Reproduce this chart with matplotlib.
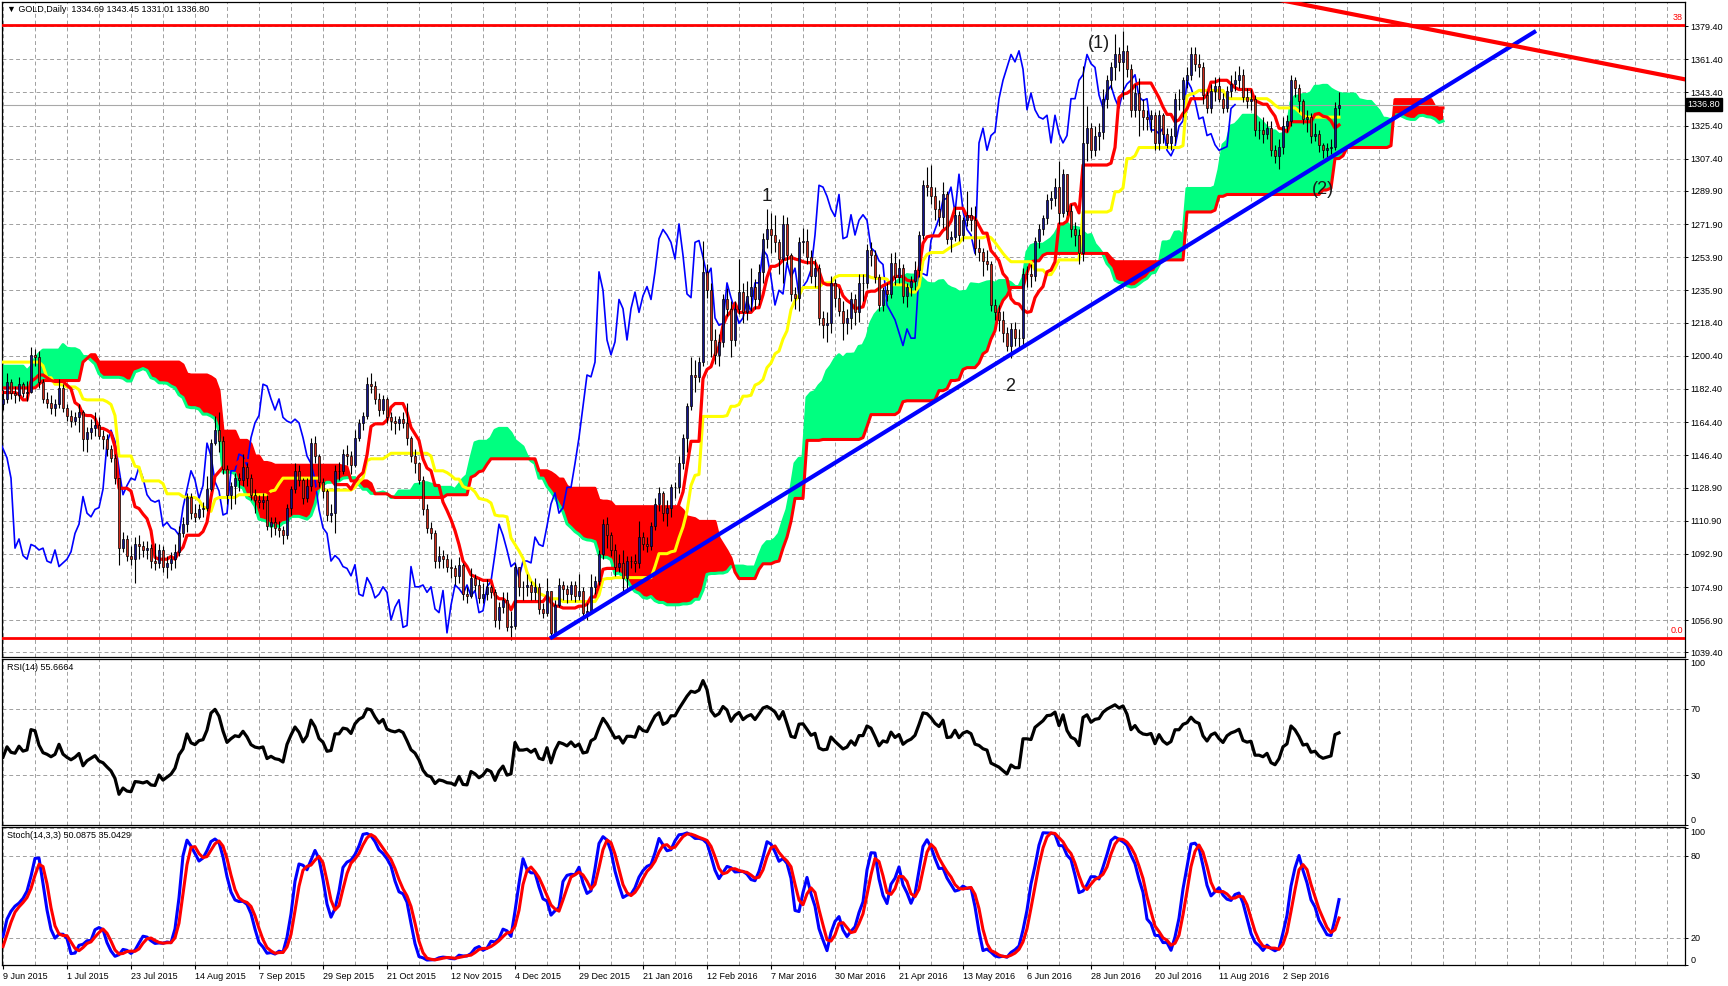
import numpy as np
import pandas as pd
import matplotlib
matplotlib.use("Agg")
import matplotlib.pyplot as plt
import matplotlib.transforms as mtransforms

plt.rcParams['font.family'] = ['Liberation Sans', 'DejaVu Sans']

# ---- daily GOLD prices, 12 Feb 2015 .. 8 Jun 2015 (only feed the indicators, off-screen)
closes_pre = [1221, 1228, 1228, 1208, 1212, 1209, 1204, 1198, 1196, 1209, 1206, 1213,
              1208, 1203, 1199, 1198, 1164, 1167, 1160, 1151, 1152, 1153, 1153, 1148, 1169, 1168, 1183,
              1187, 1191, 1196, 1204, 1199, 1186, 1183,
              1201, 1200, 1219, 1210, 1203, 1194, 1206, 1198, 1192, 1200, 1204, 1203, 1193, 1203, 1186,
              1193, 1178, 1202, 1212, 1204, 1182,
              1178, 1186, 1192, 1192, 1185, 1189, 1183, 1193, 1217, 1219, 1225, 1227, 1208, 1210, 1205,
              1205, 1206, 1187, 1187, 1189, 1189,
              1192, 1194, 1184, 1175, 1171, 1174]
highs_pre = [1228, 1233, 1234, 1231, 1214, 1216, 1215, 1206, 1203, 1213, 1219, 1222,
             1218, 1213, 1206, 1205, 1203, 1170, 1171, 1164, 1158, 1160, 1157, 1156, 1172, 1178, 1185,
             1190, 1194, 1197, 1219, 1206, 1201, 1190,
             1204, 1208, 1224, 1221, 1215, 1205, 1208, 1209, 1201, 1204, 1209, 1208, 1206, 1206, 1203,
             1197, 1196, 1204, 1215, 1215, 1208,
             1186, 1189, 1194, 1198, 1194, 1194, 1190, 1196, 1219, 1224, 1228, 1232, 1228, 1212, 1215,
             1207, 1208, 1207, 1191, 1192, 1194,
             1196, 1199, 1197, 1186, 1180, 1178]
lows_pre = [1216, 1217, 1222, 1198, 1199, 1200, 1190, 1195, 1192, 1195, 1200, 1202,
            1203, 1199, 1194, 1195, 1162, 1161, 1157, 1150, 1149, 1148, 1149, 1142, 1142, 1162, 1166,
            1182, 1184, 1189, 1195, 1194, 1183, 1178,
            1182, 1196, 1194, 1205, 1198, 1192, 1192, 1196, 1183, 1190, 1197, 1196, 1191, 1190, 1184,
            1182, 1174, 1175, 1199, 1202, 1178,
            1170, 1177, 1184, 1186, 1183, 1181, 1181, 1180, 1192, 1212, 1214, 1220, 1205, 1204, 1203,
            1199, 1202, 1184, 1183, 1184, 1183,
            1186, 1188, 1182, 1174, 1162, 1168]

# ---- visible bars, 9 Jun 2015 (bar 0) .. 22 Sep 2016 (bar 334)
closes = [1177, 1186, 1180, 1179, 1185, 1180, 1181, 1201, 1200, 1186,
          1177, 1175, 1172, 1174, 1183, 1172, 1168, 1165, 1167, 1170,
          1155, 1159, 1161, 1163, 1157, 1155, 1150, 1145, 1134, 1096,
          1101, 1092, 1090, 1098, 1097, 1095, 1096, 1089, 1088, 1095,
          1086, 1088, 1090, 1094, 1104, 1109, 1124, 1115, 1113, 1117,
          1118, 1128, 1153, 1160, 1154, 1139, 1125, 1130, 1134, 1133,
          1140, 1134, 1125, 1122, 1121, 1122, 1108, 1110, 1107, 1106,
          1103, 1118, 1128, 1138, 1133, 1123, 1130, 1153, 1146, 1132,
          1127, 1114, 1115, 1138, 1138, 1147, 1146, 1141, 1156, 1164,
          1168, 1185, 1184, 1177, 1171, 1177, 1167, 1165, 1164, 1166,
          1164, 1156, 1146, 1142, 1133, 1117, 1107, 1104, 1089, 1092,
          1090, 1086, 1085, 1081, 1087, 1071, 1070, 1080, 1076, 1069,
          1071, 1075, 1072, 1057, 1064, 1068, 1053, 1054, 1086, 1075,
          1075, 1076, 1072, 1075, 1063, 1061, 1073, 1050, 1065, 1076,
          1074, 1071, 1076, 1070, 1073, 1061, 1062, 1075, 1078, 1093,
          1109, 1103, 1095, 1086, 1088, 1080, 1089, 1089, 1088, 1102,
          1098, 1097, 1108, 1120, 1126, 1115, 1118, 1129, 1129, 1142,
          1156, 1173, 1190, 1189, 1197, 1246, 1236, 1209, 1201, 1208,
          1231, 1226, 1209, 1226, 1235, 1224, 1233, 1238, 1231, 1246,
          1264, 1269, 1266, 1262, 1253, 1272, 1255, 1234, 1232, 1262,
          1263, 1254, 1244, 1248, 1221, 1217, 1218, 1240, 1232, 1225,
          1218, 1221, 1231, 1224, 1240, 1240, 1258, 1255, 1243, 1228,
          1236, 1234, 1251, 1243, 1248, 1233, 1238, 1241, 1247, 1266,
          1293, 1292, 1287, 1280, 1276, 1288, 1264, 1265, 1277, 1266,
          1274, 1277, 1274, 1259, 1257, 1252, 1250, 1228, 1224, 1220,
          1213, 1206, 1215, 1210, 1210, 1245, 1245, 1244, 1263, 1269,
          1275, 1285, 1286, 1292, 1278, 1299, 1279, 1269, 1266, 1256,
          1316, 1324, 1312, 1320, 1322, 1340, 1350, 1357, 1364, 1360,
          1366, 1356, 1334, 1343, 1334, 1330, 1329, 1331, 1316, 1331,
          1321, 1316, 1320, 1340, 1340, 1350, 1353, 1364, 1359, 1357,
          1342, 1335, 1344, 1347, 1340, 1335, 1344, 1348, 1350, 1353,
          1341, 1339, 1340, 1323, 1323, 1321, 1324, 1312, 1309, 1314,
          1325, 1328, 1350, 1346, 1339, 1329, 1330, 1320, 1321, 1315,
          1312, 1313, 1314, 1334.69, 1336.80]
highs = [1182, 1191, 1188, 1184, 1189, 1186, 1187, 1205, 1204, 1203,
         1188, 1181, 1179, 1177, 1188, 1185, 1174, 1171, 1170, 1174,
         1171, 1162, 1166, 1170, 1167, 1160, 1158, 1152, 1147, 1134,
         1105, 1103, 1097, 1102, 1103, 1100, 1100, 1098, 1099, 1098,
         1097, 1092, 1094, 1098, 1108, 1113, 1126, 1126, 1120, 1120,
         1121, 1135, 1155, 1168, 1170, 1157, 1141, 1132, 1137, 1137,
         1147, 1142, 1136, 1128, 1125, 1126, 1125, 1113, 1113, 1111,
         1108, 1120, 1130, 1142, 1141, 1134, 1134, 1156, 1157, 1147,
         1134, 1128, 1120, 1141, 1143, 1150, 1152, 1149, 1160, 1166,
         1170, 1189, 1191, 1187, 1180, 1179, 1178, 1170, 1168, 1168,
         1170, 1175, 1157, 1150, 1143, 1135, 1120, 1110, 1106, 1097,
         1095, 1093, 1090, 1087, 1091, 1088, 1075, 1085, 1082, 1079,
         1077, 1079, 1076, 1074, 1067, 1072, 1072, 1062, 1088, 1086,
         1078, 1082, 1078, 1080, 1077, 1066, 1080, 1073, 1068, 1080,
         1078, 1076, 1078, 1078, 1082, 1075, 1066, 1082, 1081, 1095,
         1112, 1113, 1105, 1098, 1093, 1095, 1092, 1092, 1093, 1111,
         1105, 1102, 1110, 1123, 1129, 1127, 1122, 1131, 1132, 1146,
         1158, 1175, 1200, 1198, 1200, 1263, 1250, 1240, 1215, 1212,
         1234, 1237, 1230, 1230, 1253, 1240, 1241, 1248, 1242, 1250,
         1267, 1280, 1278, 1277, 1264, 1277, 1276, 1256, 1238, 1265,
         1270, 1269, 1258, 1253, 1250, 1225, 1224, 1244, 1242, 1237,
         1230, 1226, 1235, 1234, 1245, 1245, 1261, 1262, 1258, 1245,
         1238, 1240, 1256, 1257, 1253, 1250, 1240, 1244, 1252, 1268,
         1296, 1303, 1304, 1292, 1285, 1295, 1290, 1268, 1282, 1279,
         1276, 1290, 1281, 1282, 1264, 1259, 1258, 1252, 1231, 1228,
         1225, 1216, 1218, 1219, 1215, 1248, 1249, 1250, 1265, 1272,
         1277, 1288, 1290, 1297, 1306, 1302, 1297, 1283, 1273, 1269,
         1358, 1336, 1327, 1325, 1327, 1345, 1353, 1360, 1375, 1368,
         1377, 1369, 1359, 1348, 1351, 1340, 1334, 1334, 1333, 1334,
         1332, 1324, 1324, 1343, 1345, 1352, 1357, 1368, 1368, 1364,
         1360, 1344, 1348, 1352, 1352, 1343, 1347, 1353, 1355, 1358,
         1356, 1346, 1345, 1342, 1328, 1330, 1328, 1328, 1315, 1318,
         1330, 1331, 1353, 1352, 1348, 1340, 1334, 1332, 1327, 1323,
         1316, 1316, 1318, 1338, 1343.45]
lows = [1171, 1175, 1177, 1175, 1176, 1178, 1176, 1180, 1195, 1183,
        1175, 1172, 1169, 1168, 1172, 1170, 1165, 1162, 1163, 1159,
        1149, 1148, 1155, 1157, 1155, 1150, 1146, 1143, 1131, 1087,
        1094, 1089, 1087, 1077, 1090, 1091, 1090, 1085, 1084, 1085,
        1083, 1080, 1084, 1085, 1092, 1102, 1105, 1112, 1110, 1112,
        1113, 1116, 1127, 1152, 1148, 1136, 1120, 1117, 1120, 1127,
        1130, 1130, 1122, 1115, 1118, 1117, 1106, 1102, 1103, 1102,
        1098, 1101, 1114, 1126, 1130, 1120, 1121, 1127, 1142, 1129,
        1123, 1111, 1110, 1104, 1133, 1136, 1141, 1136, 1140, 1154,
        1160, 1166, 1180, 1174, 1168, 1169, 1164, 1160, 1158, 1160,
        1161, 1152, 1143, 1137, 1131, 1114, 1104, 1101, 1085, 1085,
        1085, 1083, 1080, 1076, 1077, 1068, 1066, 1069, 1073, 1066,
        1066, 1068, 1069, 1053, 1052, 1061, 1051, 1046, 1052, 1070,
        1068, 1070, 1068, 1068, 1060, 1058, 1059, 1047, 1049, 1064,
        1068, 1066, 1068, 1067, 1068, 1058, 1057, 1060, 1071, 1076,
        1090, 1096, 1092, 1081, 1083, 1072, 1073, 1085, 1083, 1085,
        1095, 1094, 1095, 1106, 1116, 1111, 1108, 1113, 1123, 1126,
        1139, 1148, 1171, 1181, 1186, 1195, 1232, 1200, 1196, 1195,
        1205, 1222, 1200, 1206, 1223, 1218, 1220, 1225, 1226, 1228,
        1240, 1259, 1256, 1257, 1245, 1240, 1250, 1230, 1226, 1225,
        1256, 1250, 1240, 1238, 1217, 1210, 1208, 1213, 1227, 1222,
        1209, 1212, 1215, 1217, 1219, 1230, 1237, 1249, 1240, 1225,
        1225, 1230, 1232, 1239, 1240, 1229, 1227, 1233, 1236, 1243,
        1264, 1287, 1283, 1274, 1271, 1270, 1261, 1257, 1263, 1263,
        1263, 1271, 1268, 1255, 1252, 1244, 1247, 1225, 1220, 1214,
        1208, 1203, 1199, 1206, 1204, 1206, 1238, 1238, 1241, 1259,
        1266, 1272, 1280, 1282, 1272, 1276, 1277, 1265, 1260, 1250,
        1252, 1306, 1308, 1309, 1312, 1318, 1335, 1345, 1350, 1355,
        1340, 1352, 1330, 1330, 1320, 1323, 1323, 1322, 1312, 1312,
        1316, 1313, 1312, 1316, 1334, 1330, 1346, 1350, 1355, 1352,
        1337, 1332, 1332, 1339, 1338, 1332, 1333, 1341, 1344, 1346,
        1338, 1335, 1334, 1320, 1318, 1316, 1318, 1309, 1305, 1302,
        1310, 1322, 1325, 1341, 1333, 1326, 1322, 1316, 1317, 1311,
        1308, 1308, 1310, 1312, 1331.01]

date_labels = ["9 Jun 2015", "1 Jul 2015", "23 Jul 2015", "14 Aug 2015", "7 Sep 2015",
               "29 Sep 2015", "21 Oct 2015", "12 Nov 2015", "4 Dec 2015", "29 Dec 2015",
               "21 Jan 2016", "12 Feb 2016", "7 Mar 2016", "30 Mar 2016", "21 Apr 2016",
               "13 May 2016", "6 Jun 2016", "28 Jun 2016", "20 Jul 2016", "11 Aug 2016",
               "2 Sep 2016"]
price_ticks = [1379.40, 1361.40, 1343.40, 1325.40, 1307.40, 1289.90, 1271.90, 1253.90, 1235.90,
               1218.40, 1200.40, 1182.40, 1164.40, 1146.40, 1128.90, 1110.90, 1092.90, 1074.90,
               1056.90, 1039.40]

# chart objects drawn by hand on the original: fibo levels, trend lines, wave marks
fibo_levels = [(1380.2, "38"), (1047.0, "0.0")]
blue_trend = [(136.75, 1047.0), (383.25, 1376.8)]
red_trend = [(361.75, 1375.5), (420.5, 1350.5)]
wave_marks = [("1", 190.9, 1286.8), ("2", 251.9, 1183.6), ("(1)", 274.0, 1369.7), ("(2)", 329.9, 1290.8)]
last_price = 1336.80

# ---------------------------------------------------------------- indicators
close = np.array(closes_pre + closes, float)
high = np.array(highs_pre + highs, float)
low = np.array(lows_pre + lows, float)
n_pre = len(closes_pre)
n = len(close)
bars = np.arange(n) - n_pre
opn = np.r_[close[0], close[:-1]]
high = np.maximum(high, np.maximum(opn, close))
low = np.minimum(low, np.minimum(opn, close))


def mid_range(period):
    hh = pd.Series(high).rolling(period).max()
    ll = pd.Series(low).rolling(period).min()
    return ((hh + ll) / 2).to_numpy()


tenkan = mid_range(9)
kijun = mid_range(26)
span_a = (tenkan + kijun) / 2
span_b = mid_range(52)


def rsi(c, period=14):
    d = np.diff(c)
    gain = np.clip(d, 0, None)
    loss = np.clip(-d, 0, None)
    out = np.full(len(c), np.nan)
    ag = gain[:period].mean()
    al = loss[:period].mean()
    out[period] = 100 - 100 / (1 + ag / al)
    for i in range(period, len(d)):
        ag = (ag * (period - 1) + gain[i]) / period
        al = (al * (period - 1) + loss[i]) / period
        out[i + 1] = 100 - 100 / (1 + ag / al) if al > 0 else 100
    return out


rsi14 = rsi(close)
hh14 = pd.Series(high).rolling(14).max()
ll14 = pd.Series(low).rolling(14).min()
num = (pd.Series(close) - ll14).rolling(3).sum()
den = (hh14 - ll14).rolling(3).sum()
stoch_main = (100 * num / den).to_numpy()
stoch_sig = pd.Series(stoch_main).rolling(3).mean().to_numpy()

# ---------------------------------------------------------------- figure
W, H = 1728, 986
fig = plt.figure(figsize=(W / 100, H / 100), dpi=100, facecolor='white')


def box(top, bottom, left=2, right=1685):
    return [left / W, 1 - bottom / H, (right - left) / W, (bottom - top) / H]


ax = fig.add_axes(box(2, 657))
ax_rsi = fig.add_axes(box(659, 825))
ax_st = fig.add_axes(box(827, 965))

x_left, x_right = -0.25, 420.5
grid_kw = dict(color='#a0a0a0', lw=0.7, ls=(0, (4, 3)))

for a in (ax, ax_rsi, ax_st):
    a.set_xlim(x_left, x_right)
    for s in a.spines.values():
        s.set_linewidth(0.9)
        s.set_color('black')
    a.yaxis.tick_right()
    a.tick_params(axis='y', direction='out', length=2, width=0.7, pad=2, labelsize=6.5, colors='black')
    a.set_xticks(np.arange(0, 421, 8), minor=True)
    a.set_xticks([])
    a.tick_params(axis='x', which='both', length=0, labelbottom=False)
    a.grid(True, which='minor', axis='x', **grid_kw)
    a.grid(True, which='major', axis='y', **grid_kw)
    a.set_axisbelow(True)

# main panel
ax.set_ylim(1036.9, 1392.5)
ax.set_yticks(price_ticks)
ax.set_yticklabels([f"{p:.2f}" for p in price_ticks])

cx = bars + 26
ax.fill_between(cx, span_a, span_b, where=span_a >= span_b, interpolate=True,
                color='#00ff80', lw=0, zorder=1)
ax.fill_between(cx, span_a, span_b, where=span_a < span_b, interpolate=True,
                color='#ff0000', lw=0, zorder=1)
ax.plot(cx, span_a, color='#00ff80', lw=2.2, zorder=2)
ax.plot(cx, span_b, color='#ff0000', lw=2.2, zorder=2)
ax.axhline(last_price, color='#a8a8a8', lw=0.8, zorder=2.5)
ax.plot(bars - 26, close, color='#0000ff', lw=1.2, zorder=3)
ax.plot(bars, kijun, color='#ffff00', lw=2.2, zorder=3)
ax.plot(bars, tenkan, color='#ff0000', lw=2.3, zorder=3)

vis = bars >= 0
xb, o, c, h, l = bars[vis], opn[vis], close[vis], high[vis], low[vis]
ax.vlines(xb, l, h, color='black', lw=0.8, zorder=4)
body_col = np.where(c >= o, '#14148c', '#cc2a1a')
ax.bar(xb, c - o, bottom=o, width=0.7, color=body_col, edgecolor='black', linewidth=0.5, zorder=5)

right_edge = mtransforms.blended_transform_factory(ax.transAxes, ax.transData)
for level, name in fibo_levels:
    ax.axhline(level, color='#ff0000', lw=2, zorder=6)
    ax.text(0.9988, level + 1.6, name, transform=right_edge, ha='right', va='bottom',
            fontsize=6.5, color='#ff0000', zorder=7)

(bx0, by0), (bx1, by1) = blue_trend
ax.plot([bx0, bx1], [by0, by1], color='#0000ff', lw=3, zorder=6, solid_capstyle='butt')
(rx0, ry0), (rx1, ry1) = red_trend
slope = (ry1 - ry0) / (rx1 - rx0)
ax.plot([300, rx1], [ry0 + slope * (300 - rx0), ry1], color='#ff0000', lw=3, zorder=6)

for txt, bx, py in wave_marks:
    ax.text(bx, py, txt, ha='center', va='center', fontsize=13, color='#1a1a1a', zorder=7)

ax.text(1.0015, last_price, f"{last_price:.2f}", transform=right_edge, ha='left', va='center',
        fontsize=6.5, color='white', zorder=8, clip_on=False,
        bbox=dict(boxstyle='square,pad=0.2', fc='black', ec='black'))

# RSI panel
ax_rsi.set_ylim(0, 100)
ax_rsi.plot(bars[vis], rsi14[vis], color='black', lw=2.3, zorder=3)
ax_rsi.set_yticks([0, 30, 70, 100])
ax_rsi.set_yticklabels(["0", "30", "70", "100"])

# Stochastic panel
ax_st.set_ylim(0, 101)
ax_st.plot(bars[vis], stoch_main[vis], color='#0000ff', lw=2.2, zorder=3)
ax_st.plot(bars[vis], stoch_sig[vis], color='#ff0000', lw=2.2, zorder=4)
ax_st.set_yticks([0, 20, 80, 100])
ax_st.set_yticklabels(["0", "20", "80", "100"])
ax_st.set_xticks(np.arange(0, 16 * len(date_labels), 16))
ax_st.set_xticklabels(date_labels, ha='left')
ax_st.tick_params(axis='x', which='major', length=3, width=0.8, labelbottom=True,
                  labelsize=6.5, pad=2, colors='black')
ax_st.grid(True, which='major', axis='x', **grid_kw)

for a in (ax_rsi, ax_st):
    labels = a.get_yticklabels()
    labels[0].set_va('bottom')
    labels[-1].set_va('top')

# panel captions
fig.text(7 / W, 1 - 10 / H, "\u25bc GOLD,Daily  1334.69 1343.45 1331.01 1336.80",
         fontsize=6.5, va='center', ha='left')
fig.text(7 / W, 1 - 667 / H, "RSI(14) 55.6664", fontsize=6.5, va='center', ha='left')
fig.text(7 / W, 1 - 836 / H, "Stoch(14,3,3) 50.0875 35.0429", fontsize=6.5, va='center', ha='left')

fig.savefig("out.png", dpi=100, facecolor='white')
